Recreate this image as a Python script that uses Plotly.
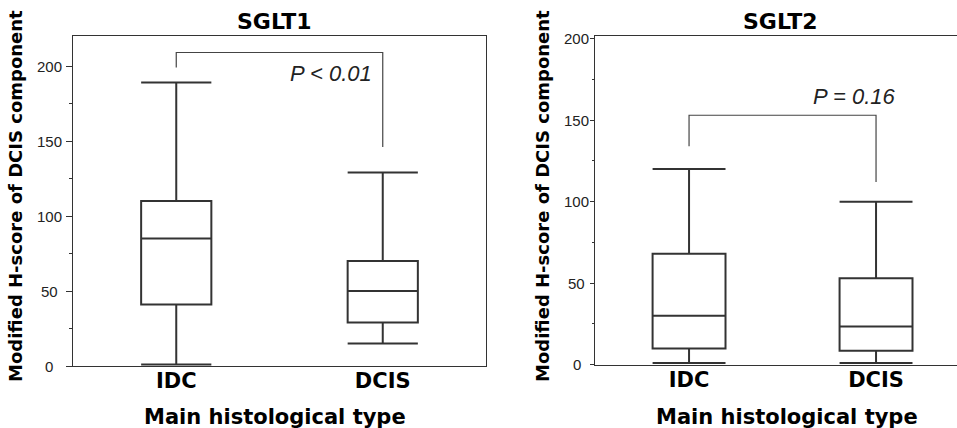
import plotly.graph_objects as go

W, H = 957, 428

categories = ["IDC", "DCIS"]

# SGLT1 (left panel) box statistics
sglt1_lower = [1, 15]
sglt1_q1 = [41, 29]
sglt1_median = [85, 50]
sglt1_q3 = [110, 70]
sglt1_upper = [189, 129]

# SGLT2 (right panel) box statistics
sglt2_lower = [1, 1]
sglt2_q1 = [10, 8.6]
sglt2_median = [30, 23.5]
sglt2_q3 = [68, 53]
sglt2_upper = [120, 100]

# significance brackets: [left leg bottom, top, right leg bottom]
sglt1_bracket = [199, 209, 146]
sglt2_bracket = [134, 153, 112]
sglt1_p = "P < 0.01"
sglt2_p = "P = 0.16"

y_ticks = [0, 50, 100, 150, 200]

FONT = "Liberation Sans, Arial, sans-serif"
BFONT = "DejaVu Sans, Liberation Sans, Arial, sans-serif"
BOXLINE = "#333333"

def px_x(p):
    return p / W

def px_y(p):
    return 1 - p / H

fig = go.Figure()

def add_boxes(lower, q1, med, q3, upper, xa, ya, width):
    fig.add_trace(go.Box(
        x=categories, lowerfence=lower, q1=q1, median=med, q3=q3, upperfence=upper,
        xaxis=xa, yaxis=ya, width=width, whiskerwidth=1,
        fillcolor="white", line=dict(color=BOXLINE, width=2),
        boxpoints=False, hoverinfo="skip", showlegend=False,
    ))

def add_bracket(b, xa, ya):
    fig.add_trace(go.Scatter(
        x=[categories[0], categories[0], categories[1], categories[1]],
        y=[b[0], b[1], b[1], b[2]],
        mode="lines", line=dict(color="#444444", width=1.2),
        xaxis=xa, yaxis=ya, hoverinfo="skip", showlegend=False,
    ))

add_boxes(sglt1_lower, sglt1_q1, sglt1_median, sglt1_q3, sglt1_upper, "x", "y", 0.34)
add_boxes(sglt2_lower, sglt2_q1, sglt2_median, sglt2_q3, sglt2_upper, "x2", "y2", 0.39)
add_bracket(sglt1_bracket, "x", "y")
add_bracket(sglt2_bracket, "x2", "y2")

common_x = dict(
    type="category", showline=True, linecolor="#333333", linewidth=1,
    ticks="", showgrid=False, zeroline=False, fixedrange=True,
    ticklabelstandoff=-4,
    tickfont=dict(family=BFONT, size=21, color="black", weight="bold"),
)
common_y = dict(
    showline=True, linecolor="#333333", linewidth=1, showgrid=False, zeroline=False,
    tickmode="array", tickvals=y_ticks, ticks="outside", tickcolor="#333333",
    showticklabels=False, fixedrange=True,
)

fig.update_layout(
    width=W, height=H, margin=dict(l=0, r=0, t=0, b=0),
    paper_bgcolor="white", plot_bgcolor="white", showlegend=False,
    xaxis=dict(common_x, domain=[px_x(73), px_x(486)], range=[-0.5, 1.5], mirror=True,
               anchor="y"),
    yaxis=dict(common_y, domain=[px_y(366), px_y(36)], range=[0, 220], mirror=True,
               ticklen=6, anchor="x",
               minor=dict(ticks="outside", ticklen=3, dtick=25, tickcolor="#333333")),
    xaxis2=dict(common_x, domain=[px_x(595), 1.0], range=[-0.503, 1.433], mirror=True,
                anchor="y2"),
    yaxis2=dict(common_y, domain=[px_y(364.7), px_y(36)], range=[0, 201.6], mirror=False,
                ticklen=4, anchor="x2",
                minor=dict(ticks="outside", ticklen=2, dtick=25, tickcolor="#333333")),
)

ann = []
C = dict(showarrow=False, xanchor="center", yanchor="middle")
# y tick labels (centered, as in reference)
for v in y_ticks:
    ann.append(dict(C, x=px_x(49), xref="paper", y=v, yref="y", text=str(v),
                    font=dict(family=FONT, size=15, color="#222222")))
    ann.append(dict(C, x=px_x(576.5), xref="paper", y=v, yref="y2", text=str(v),
                    font=dict(family=FONT, size=15, color="#222222")))

bold = dict(family=BFONT, color="black", weight="bold")
# panel titles
ann.append(dict(C, x=px_x(274), y=px_y(22), xref="paper", yref="paper", text="SGLT1",
                font=dict(bold, size=22)))
ann.append(dict(C, x=px_x(780), y=px_y(22), xref="paper", yref="paper", text="SGLT2",
                font=dict(bold, size=22)))
# axis titles
for xc in (275, 787):
    ann.append(dict(C, x=px_x(xc), y=px_y(417), xref="paper", yref="paper",
                    text="Main histological type", font=dict(bold, size=21)))
for xc in (16, 543):
    ann.append(dict(C, x=px_x(xc), y=px_y(196), xref="paper", yref="paper",
                    text="Modified H-score of DCIS component", textangle=-90,
                    font=dict(bold, size=18)))
# p-values
ann.append(dict(C, x=px_x(331), y=195, xref="paper", yref="y", text=sglt1_p,
                font=dict(family=FONT, size=22, color="#222222", style="italic")))
ann.append(dict(C, x=px_x(854), y=164.5, xref="paper", yref="y2", text=sglt2_p,
                font=dict(family=FONT, size=22, color="#222222", style="italic")))

fig.update_layout(annotations=ann)
fig.write_html("out.html", config={"displayModeBar": False})

# remove default page margin so the figure sits at the window origin
with open("out.html", "r", encoding="utf-8") as f:
    html = f.read()
html = html.replace("<head>", "<head><style>html,body{margin:0;padding:0;overflow:hidden;}</style>", 1)
with open("out.html", "w", encoding="utf-8") as f:
    f.write(html)
